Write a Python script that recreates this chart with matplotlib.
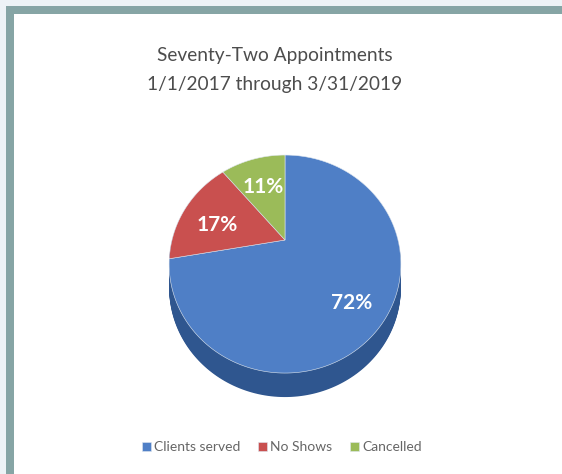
import matplotlib
matplotlib.use("Agg")
import matplotlib.pyplot as plt
import numpy as np
from matplotlib.patches import Rectangle, Polygon

# Appointment breakdown (72 appointments in total)
categories = ["Clients served", "No Shows", "Cancelled"]
counts = [52, 12, 8]
colors = ["#4f7fc6", "#c9504f", "#9bbb59"]
side_color = "#2f568f"

title = "Seventy-Two Appointments\n1/1/2017 through 3/31/2019"

W, H = 562, 474
fig = plt.figure(figsize=(W / 100, H / 100), dpi=100)
fig.patch.set_facecolor("#edf3f6")

# teal frame and white panel (behind the axes)
fig.patches.append(Rectangle((6 / W, 0), 2, 1 - 6 / H, transform=fig.transFigure,
                             facecolor="#86a5a5", edgecolor="none", zorder=-2))
fig.patches.append(Rectangle((14 / W, 0), 2, 1 - 14 / H, transform=fig.transFigure,
                             facecolor="white", edgecolor="none", zorder=-1))

# axes over the white panel; 1 unit = 113 px, pie apex at pixel (285, 240)
ax = fig.add_axes([14 / W, 0, 548 / W, 460 / H])
ax.set_facecolor("none")

# tilted view of the pie disc with a bit of perspective
TILT = np.radians(23.4)
DIST = 1.8


def project(xy):
    x, y = xy[:, 0], xy[:, 1]
    s = DIST / (DIST + y * np.sin(TILT))
    return np.column_stack([x * s, y * np.cos(TILT) * s])


def wedge_outline(w, n=200):
    # outline of a pie wedge from the angles matplotlib computed for it
    cx, cy = w.center
    t = np.radians(np.linspace(w.theta1, w.theta2, n))
    arc = np.column_stack([cx + w.r * np.cos(t), cy + w.r * np.sin(t)])
    return np.vstack([[cx, cy], arc])


wedges, _, autotexts = ax.pie(
    counts, colors=colors, startangle=90, counterclock=False,
    autopct="%1.0f%%", radius=1, frame=True,
    textprops=dict(color="white", fontsize=15, fontweight="bold", family="Lato"))

depth = 24 / 113
steps = 30
tops = []
for w in wedges:
    pv = project(wedge_outline(w))
    # side of the disc: stacked darker copies shifted downward
    for i in range(steps, 0, -1):
        ax.add_patch(Polygon(pv - [0, depth * i / steps], closed=True,
                             facecolor=side_color, edgecolor="none", zorder=1))
    tops.append((pv, w.get_facecolor()))
    w.remove()

handles = []
for pv, fc in tops:
    p = Polygon(pv, closed=True, facecolor=fc, edgecolor="#dfe7f0",
                linewidth=0.4, zorder=2)
    ax.add_patch(p)
    handles.append(p)

ax.set_xlim(-271 / 113, 277 / 113)
ax.set_ylim(-234 / 113, 226 / 113)
ax.set_aspect("auto")
ax.axis("off")

label_pos = [(0.593, -0.558), (-0.602, 0.133), (-0.195, 0.469)]
for t, p in zip(autotexts, label_pos):
    t.set_position(p)
    t.set_ha("center")
    t.set_va("center")
    t.set_zorder(3)

fig.text(275 / W, 1 - 70 / H, title, ha="center", va="center", fontsize=13.8,
         color="#4d4d4d", family="Lato", linespacing=1.9)

fig.legend(handles, categories, loc="center", bbox_to_anchor=(282 / W, 1 - 447 / H),
           ncol=3, frameon=False, handlelength=0.6, handleheight=0.6,
           handletextpad=0.25, columnspacing=1.3, labelcolor="#666666",
           prop=dict(family="Lato", size=10))

fig.savefig("out.png", dpi=100)
